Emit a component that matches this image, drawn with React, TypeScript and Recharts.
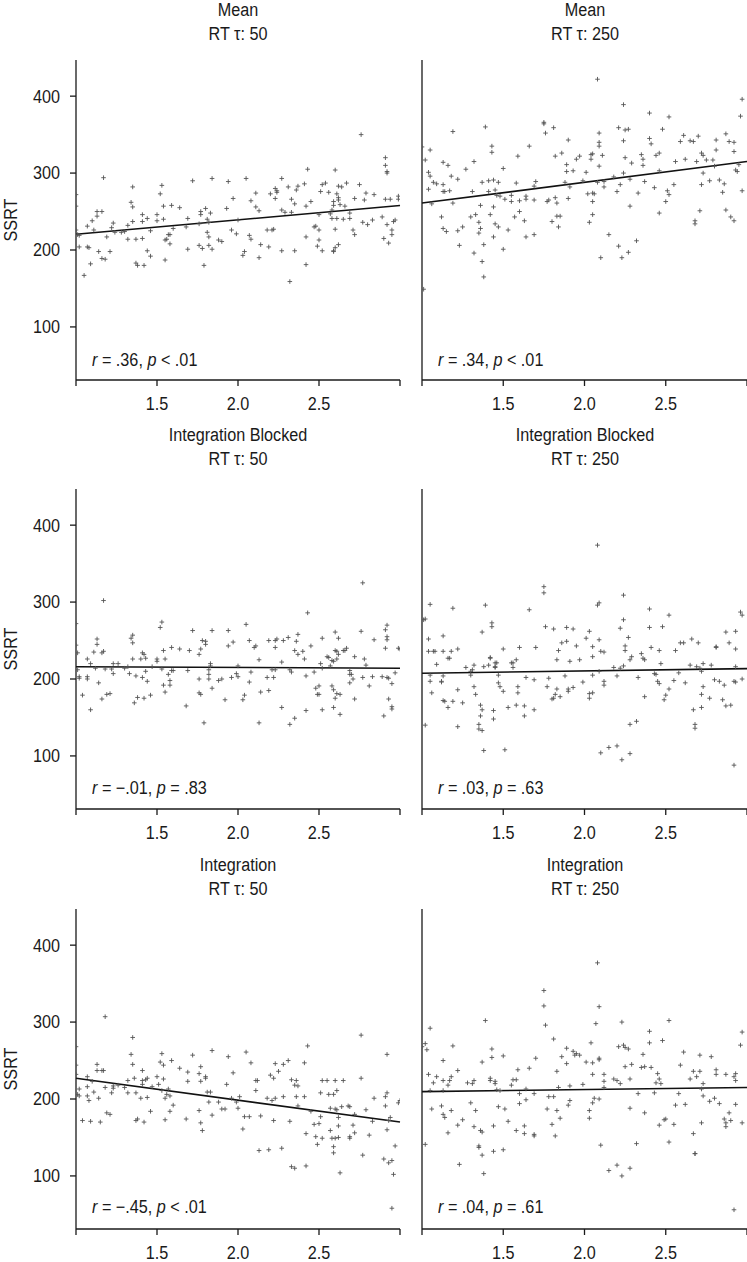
import React from 'react';
import { ScatterChart, Scatter, XAxis, YAxis, ReferenceLine } from 'recharts';

// RT variability (x) vs SSRT (y)
const meanTau50: [number, number][] = [
  [1.00,272],[1.00,257],[1.00,226],[1.01,220],[1.02,219],[1.02,204],[1.05,167],[1.07,204],[1.08,203],[1.07,231],
  [1.09,182],[1.10,238],[1.11,226],[1.13,250],[1.13,244],[1.14,198],[1.16,189],[1.16,250],[1.17,294],[1.18,188],
  [1.19,217],[1.21,198],[1.22,229],[1.23,235],[1.24,223],[1.28,223],[1.30,224],[1.32,232],[1.32,214],[1.34,262],
  [1.35,282],[1.35,256],[1.35,237],[1.37,183],[1.38,180],[1.37,214],[1.41,215],[1.41,246],[1.41,237],[1.42,180],
  [1.44,241],[1.44,199],[1.46,192],[1.46,225],[1.50,246],[1.50,238],[1.52,273],[1.53,284],[1.54,257],[1.54,240],
  [1.55,213],[1.55,187],[1.56,214],[1.57,220],[1.58,208],[1.58,220],[1.59,258],[1.60,228],[1.64,255],[1.68,230],
  [1.69,201],[1.69,241],[1.72,290],[1.76,234],[1.76,206],[1.77,246],[1.77,250],[1.78,202],[1.79,180],[1.80,254],
  [1.81,240],[1.81,223],[1.82,217],[1.82,236],[1.82,206],[1.83,248],[1.84,293],[1.84,201],[1.88,213],[1.90,211],
  [1.93,254],[1.94,289],[1.96,226],[1.97,267],[1.99,221],[2.00,239],[2.03,193],[2.04,198],[2.05,293],[2.07,219],
  [2.08,214],[2.08,264],[2.11,274],[2.11,256],[2.13,251],[2.13,190],[2.14,207],[2.18,226],[2.19,204],[2.20,273],
  [2.21,226],[2.22,227],[2.23,267],[2.23,280],[2.24,275],[2.24,277],[2.27,293],[2.27,252],[2.27,199],[2.29,249],
  [2.31,282],[2.32,159],[2.33,266],[2.33,249],[2.35,260],[2.35,199],[2.36,278],[2.37,283],[2.41,286],[2.42,217],
  [2.42,181],[2.42,257],[2.43,305],[2.45,263],[2.47,230],[2.48,231],[2.49,205],[2.50,213],[2.50,246],[2.50,226],
  [2.51,276],[2.52,285],[2.52,199],[2.54,287],[2.56,275],[2.57,247],[2.58,252],[2.58,241],[2.59,258],[2.59,198],
  [2.59,199],[2.59,263],[2.60,227],[2.60,304],[2.60,203],[2.61,273],[2.61,241],[2.62,283],[2.62,265],[2.62,207],
  [2.62,268],[2.63,259],[2.64,282],[2.65,240],[2.66,257],[2.67,287],[2.69,248],[2.69,241],[2.71,226],[2.72,220],
  [2.72,267],[2.75,285],[2.76,350],[2.77,236],[2.78,265],[2.79,274],[2.80,233],[2.83,239],[2.84,272],[2.89,243],
  [2.90,215],[2.91,320],[2.91,310],[2.92,302],[2.92,300],[2.91,266],[2.92,233],[2.93,209],[2.94,266],[2.95,226],
  [2.95,220],[2.96,237],[2.97,239],[2.99,266],[2.99,270],
];

const meanTau250: [number, number][] = [
  [1.00,334],[1.01,149],[1.02,317],[1.04,301],[1.04,279],[1.05,330],[1.05,296],[1.06,260],[1.07,288],[1.09,286],
  [1.12,243],[1.13,314],[1.13,276],[1.13,285],[1.13,228],[1.14,276],[1.15,224],[1.16,310],[1.17,277],[1.18,296],
  [1.19,261],[1.19,354],[1.22,292],[1.22,225],[1.23,206],[1.25,230],[1.27,305],[1.30,243],[1.31,276],[1.32,315],
  [1.32,196],[1.33,246],[1.35,236],[1.35,222],[1.36,228],[1.36,258],[1.37,185],[1.37,288],[1.38,165],[1.38,207],
  [1.39,360],[1.41,276],[1.41,290],[1.42,246],[1.43,327],[1.43,335],[1.44,291],[1.44,217],[1.44,256],[1.45,278],
  [1.45,234],[1.46,271],[1.47,288],[1.47,230],[1.48,270],[1.50,201],[1.50,306],[1.51,266],[1.53,226],[1.55,263],
  [1.55,271],[1.57,243],[1.58,287],[1.59,322],[1.60,264],[1.60,250],[1.63,238],[1.64,266],[1.64,270],[1.64,217],
  [1.66,335],[1.69,265],[1.69,283],[1.69,220],[1.70,289],[1.75,366],[1.75,364],[1.76,352],[1.77,263],[1.78,265],
  [1.80,237],[1.81,359],[1.82,268],[1.82,322],[1.83,244],[1.83,261],[1.84,230],[1.85,244],[1.86,326],[1.88,288],
  [1.89,302],[1.89,311],[1.90,343],[1.90,267],[1.91,282],[1.93,303],[1.95,318],[1.97,322],[1.99,290],[2.01,301],
  [2.02,273],[2.03,236],[2.04,324],[2.04,318],[2.05,263],[2.05,246],[2.05,325],[2.05,274],[2.06,273],[2.08,422],
  [2.09,309],[2.09,335],[2.09,340],[2.09,352],[2.08,288],[2.10,190],[2.11,323],[2.12,289],[2.12,282],[2.15,220],
  [2.18,295],[2.20,276],[2.21,205],[2.21,359],[2.22,285],[2.23,190],[2.24,389],[2.24,342],[2.24,300],[2.25,356],
  [2.25,320],[2.27,357],[2.27,197],[2.28,257],[2.28,292],[2.29,313],[2.32,212],[2.33,274],[2.35,324],[2.36,318],
  [2.36,310],[2.37,289],[2.40,345],[2.40,378],[2.41,338],[2.43,281],[2.44,323],[2.46,248],[2.46,326],[2.46,303],
  [2.48,357],[2.50,263],[2.51,277],[2.52,373],[2.52,272],[2.55,285],[2.56,315],[2.59,341],[2.61,349],[2.62,318],
  [2.65,342],[2.67,341],[2.68,238],[2.68,234],[2.69,315],[2.70,348],[2.71,251],[2.72,326],[2.72,285],[2.73,323],
  [2.73,300],[2.75,317],[2.77,290],[2.79,317],[2.80,309],[2.81,343],[2.81,330],[2.83,291],[2.85,275],[2.86,286],
  [2.87,351],[2.87,252],[2.89,341],[2.90,243],[2.92,238],[2.92,340],[2.92,328],[2.93,304],[2.94,302],[2.95,311],
  [2.96,374],[2.97,396],[2.97,277],
];

const blockedTau50: [number, number][] = [
  [1.00,272],[1.00,244],[1.01,234],[1.01,212],[1.02,203],[1.02,201],[1.04,179],[1.07,203],[1.07,200],[1.07,226],
  [1.09,220],[1.09,160],[1.11,235],[1.12,214],[1.13,252],[1.13,245],[1.14,195],[1.16,174],[1.16,234],[1.17,236],
  [1.17,302],[1.18,213],[1.19,180],[1.21,181],[1.22,213],[1.23,220],[1.23,207],[1.26,220],[1.30,214],[1.32,216],
  [1.33,207],[1.34,253],[1.35,247],[1.35,257],[1.35,226],[1.36,169],[1.37,204],[1.38,176],[1.41,202],[1.40,226],
  [1.41,234],[1.42,232],[1.42,175],[1.43,210],[1.43,227],[1.44,197],[1.46,179],[1.47,216],[1.50,226],[1.50,223],
  [1.52,267],[1.53,274],[1.53,213],[1.54,237],[1.54,192],[1.55,226],[1.55,183],[1.57,206],[1.58,192],[1.58,198],
  [1.59,241],[1.59,211],[1.60,211],[1.64,239],[1.68,165],[1.69,211],[1.70,237],[1.72,263],[1.76,200],[1.76,232],
  [1.76,182],[1.77,239],[1.77,180],[1.78,250],[1.79,143],[1.80,249],[1.80,245],[1.82,200],[1.82,206],[1.82,212],
  [1.83,220],[1.83,217],[1.84,188],[1.84,263],[1.88,198],[1.90,200],[1.92,173],[1.94,243],[1.94,263],[1.96,202],
  [1.97,248],[1.99,207],[2.00,203],[2.00,217],[2.03,173],[2.04,179],[2.05,271],[2.07,250],[2.07,196],[2.08,209],
  [2.10,241],[2.11,243],[2.13,225],[2.13,143],[2.14,183],[2.18,202],[2.19,250],[2.19,185],[2.21,212],[2.22,202],
  [2.23,241],[2.23,250],[2.23,212],[2.24,252],[2.27,163],[2.27,222],[2.28,250],[2.31,254],[2.32,212],[2.32,141],
  [2.33,209],[2.35,237],[2.35,149],[2.36,249],[2.37,258],[2.37,232],[2.40,236],[2.41,226],[2.42,204],[2.42,159],
  [2.43,286],[2.45,243],[2.47,209],[2.48,188],[2.49,180],[2.50,191],[2.50,180],[2.51,220],[2.52,214],[2.52,253],
  [2.52,160],[2.55,229],[2.56,228],[2.57,217],[2.58,224],[2.58,191],[2.59,223],[2.59,186],[2.59,163],[2.60,175],
  [2.60,237],[2.60,261],[2.61,236],[2.61,226],[2.61,181],[2.62,253],[2.62,232],[2.63,180],[2.63,154],[2.65,237],
  [2.66,237],[2.67,240],[2.69,211],[2.69,195],[2.69,206],[2.70,206],[2.71,200],[2.72,229],[2.72,174],[2.76,262],
  [2.77,325],[2.77,202],[2.78,226],[2.79,218],[2.81,191],[2.84,251],[2.83,203],[2.89,203],[2.90,152],[2.91,240],
  [2.91,264],[2.92,270],[2.92,251],[2.92,255],[2.92,202],[2.93,201],[2.93,174],[2.95,161],[2.95,164],[2.95,194],
  [2.97,208],[2.99,240],[3.00,239],
];

const blockedTau250: [number, number][] = [
  [1.01,277],[1.02,278],[1.02,140],[1.04,252],[1.04,236],[1.05,197],[1.05,297],[1.05,205],[1.06,182],[1.07,236],
  [1.08,236],[1.09,219],[1.12,197],[1.12,196],[1.13,204],[1.13,236],[1.13,256],[1.13,172],[1.14,171],[1.16,163],
  [1.16,227],[1.17,227],[1.18,236],[1.19,171],[1.19,292],[1.22,239],[1.22,186],[1.22,138],[1.25,169],[1.27,215],
  [1.30,210],[1.30,205],[1.31,212],[1.32,218],[1.32,190],[1.33,180],[1.35,141],[1.35,135],[1.36,166],[1.36,152],
  [1.37,133],[1.37,160],[1.37,261],[1.38,216],[1.38,107],[1.39,296],[1.41,218],[1.42,227],[1.42,228],[1.43,268],
  [1.43,273],[1.44,148],[1.44,159],[1.45,216],[1.45,215],[1.45,221],[1.46,221],[1.47,205],[1.47,195],[1.48,190],
  [1.50,239],[1.50,184],[1.51,108],[1.53,163],[1.55,221],[1.56,221],[1.56,215],[1.58,225],[1.58,166],[1.59,190],
  [1.59,182],[1.60,241],[1.63,165],[1.63,152],[1.64,202],[1.66,290],[1.69,199],[1.69,160],[1.70,241],[1.75,320],
  [1.75,312],[1.76,268],[1.77,190],[1.78,201],[1.80,174],[1.81,265],[1.81,175],[1.82,180],[1.83,225],[1.83,187],
  [1.84,237],[1.85,177],[1.86,247],[1.88,204],[1.89,249],[1.89,267],[1.90,187],[1.90,184],[1.91,223],[1.93,265],
  [1.93,189],[1.95,243],[1.97,225],[1.99,196],[2.01,253],[2.03,181],[2.03,175],[2.03,262],[2.05,229],[2.05,242],
  [2.05,205],[2.05,182],[2.08,296],[2.09,299],[2.09,210],[2.08,374],[2.09,251],[2.10,236],[2.10,104],[2.12,235],
  [2.12,197],[2.12,192],[2.15,111],[2.18,215],[2.20,204],[2.20,113],[2.22,266],[2.22,214],[2.23,95],[2.24,309],
  [2.24,277],[2.25,243],[2.25,237],[2.24,217],[2.27,254],[2.28,225],[2.28,141],[2.28,103],[2.29,229],[2.32,145],
  [2.33,202],[2.35,233],[2.36,227],[2.37,225],[2.37,177],[2.40,291],[2.40,267],[2.41,241],[2.43,207],[2.44,206],
  [2.45,197],[2.46,194],[2.46,237],[2.47,220],[2.48,268],[2.49,173],[2.50,179],[2.52,187],[2.52,283],[2.55,198],
  [2.56,237],[2.58,208],[2.59,247],[2.61,247],[2.62,195],[2.65,218],[2.66,252],[2.67,160],[2.68,141],[2.68,136],
  [2.69,216],[2.70,247],[2.71,214],[2.72,163],[2.72,180],[2.72,210],[2.73,220],[2.73,190],[2.77,175],[2.78,218],
  [2.80,199],[2.81,241],[2.81,242],[2.83,197],[2.85,173],[2.86,192],[2.87,165],[2.87,261],[2.89,247],[2.90,166],
  [2.92,88],[2.92,197],[2.93,262],[2.93,239],[2.93,196],[2.93,216],[2.96,287],[2.97,283],[2.97,200],
];

const integrationTau50: [number, number][] = [
  [1.00,268],[1.00,244],[1.00,232],[1.01,206],[1.02,204],[1.02,213],[1.04,172],[1.07,216],[1.07,204],[1.07,229],
  [1.08,198],[1.09,171],[1.10,223],[1.11,209],[1.13,245],[1.13,237],[1.14,201],[1.15,170],[1.16,237],[1.17,237],
  [1.18,307],[1.18,215],[1.19,182],[1.21,180],[1.22,208],[1.23,217],[1.23,214],[1.26,218],[1.30,215],[1.32,224],
  [1.32,208],[1.34,258],[1.35,245],[1.35,280],[1.36,227],[1.37,172],[1.38,174],[1.37,208],[1.41,237],[1.40,201],
  [1.41,224],[1.41,219],[1.42,170],[1.43,225],[1.44,202],[1.44,227],[1.46,184],[1.47,216],[1.50,229],[1.51,219],
  [1.52,248],[1.53,259],[1.53,211],[1.54,244],[1.54,226],[1.55,201],[1.55,173],[1.56,206],[1.57,213],[1.58,204],
  [1.58,184],[1.59,250],[1.60,192],[1.64,240],[1.68,174],[1.69,223],[1.69,235],[1.72,257],[1.76,233],[1.76,185],
  [1.77,223],[1.77,169],[1.77,242],[1.78,159],[1.80,229],[1.80,227],[1.81,209],[1.82,196],[1.83,209],[1.84,179],
  [1.84,263],[1.88,196],[1.90,187],[1.92,187],[1.93,219],[1.94,255],[1.96,201],[1.97,234],[1.99,196],[2.00,188],
  [2.01,203],[2.03,161],[2.04,177],[2.05,261],[2.07,177],[2.08,247],[2.11,224],[2.11,211],[2.12,224],[2.13,133],
  [2.14,178],[2.18,201],[2.19,134],[2.20,231],[2.21,198],[2.22,172],[2.22,227],[2.23,246],[2.23,201],[2.25,236],
  [2.27,136],[2.28,245],[2.28,203],[2.31,250],[2.32,171],[2.33,112],[2.33,225],[2.35,218],[2.35,110],[2.36,203],
  [2.36,224],[2.37,217],[2.37,191],[2.41,247],[2.41,203],[2.42,155],[2.43,269],[2.42,113],[2.45,184],[2.47,167],
  [2.48,151],[2.49,141],[2.50,168],[2.51,177],[2.51,208],[2.52,224],[2.52,149],[2.55,224],[2.56,206],[2.57,159],
  [2.57,188],[2.58,149],[2.59,130],[2.59,206],[2.59,138],[2.60,149],[2.60,187],[2.60,224],[2.61,186],[2.61,211],
  [2.62,165],[2.62,176],[2.62,150],[2.63,104],[2.64,190],[2.65,224],[2.68,191],[2.69,151],[2.69,149],[2.69,190],
  [2.71,166],[2.72,156],[2.72,180],[2.76,227],[2.76,283],[2.77,127],[2.79,186],[2.81,153],[2.84,201],[2.83,171],
  [2.90,122],[2.91,203],[2.91,191],[2.92,258],[2.92,208],[2.92,160],[2.93,117],[2.93,172],[2.94,176],[2.95,120],
  [2.95,58],[2.96,102],[2.97,139],[2.99,195],[3.00,198],
];

const integrationTau250: [number, number][] = [
  [1.00,268],[1.02,272],[1.02,141],[1.03,264],[1.04,232],[1.05,292],[1.05,211],[1.06,187],[1.07,221],[1.09,229],
  [1.12,191],[1.13,211],[1.13,224],[1.13,250],[1.13,180],[1.14,176],[1.16,156],[1.16,218],[1.17,224],[1.18,229],
  [1.18,185],[1.19,269],[1.22,237],[1.22,166],[1.23,115],[1.25,173],[1.28,221],[1.30,195],[1.31,220],[1.32,224],
  [1.32,164],[1.33,185],[1.35,139],[1.35,137],[1.36,159],[1.37,157],[1.37,127],[1.37,248],[1.38,103],[1.39,302],
  [1.42,227],[1.42,224],[1.43,265],[1.43,254],[1.44,165],[1.44,132],[1.45,220],[1.45,223],[1.46,212],[1.47,190],
  [1.48,211],[1.50,256],[1.50,134],[1.51,187],[1.53,171],[1.55,218],[1.56,225],[1.58,225],[1.58,159],[1.59,238],
  [1.60,207],[1.60,194],[1.63,165],[1.63,155],[1.64,213],[1.64,199],[1.66,240],[1.69,207],[1.69,154],[1.69,152],
  [1.70,253],[1.75,341],[1.75,321],[1.76,296],[1.77,187],[1.78,203],[1.80,167],[1.81,278],[1.81,203],[1.82,152],
  [1.83,236],[1.83,185],[1.84,215],[1.85,175],[1.86,255],[1.89,246],[1.89,266],[1.90,192],[1.91,198],[1.91,217],
  [1.93,262],[1.94,257],[1.95,259],[1.97,257],[1.99,219],[2.01,248],[2.03,175],[2.03,185],[2.04,273],[2.05,247],
  [2.05,232],[2.05,195],[2.06,201],[2.07,298],[2.09,320],[2.09,253],[2.09,251],[2.09,200],[2.08,377],[2.10,140],
  [2.12,232],[2.12,223],[2.12,215],[2.15,107],[2.18,226],[2.20,224],[2.20,114],[2.21,268],[2.22,220],[2.23,100],
  [2.23,300],[2.24,270],[2.25,242],[2.25,267],[2.27,265],[2.28,188],[2.28,110],[2.28,226],[2.29,245],[2.32,142],
  [2.33,207],[2.35,241],[2.36,258],[2.37,242],[2.37,182],[2.40,288],[2.40,273],[2.41,241],[2.43,208],[2.44,221],
  [2.45,233],[2.46,166],[2.46,226],[2.47,220],[2.48,276],[2.49,173],[2.50,174],[2.52,144],[2.52,302],[2.55,167],
  [2.56,192],[2.58,207],[2.59,244],[2.61,261],[2.62,193],[2.65,226],[2.67,236],[2.67,155],[2.68,129],[2.68,129],
  [2.69,229],[2.71,257],[2.71,236],[2.72,169],[2.72,213],[2.73,204],[2.73,220],[2.77,197],[2.78,255],[2.80,201],
  [2.81,238],[2.81,232],[2.83,194],[2.86,174],[2.87,232],[2.87,169],[2.87,164],[2.89,182],[2.90,172],[2.92,56],
  [2.92,229],[2.93,224],[2.93,193],[2.93,233],[2.96,270],[2.97,287],[2.97,169],
];

// fitted regression line: SSRT at x = 1.0 and x = 3.0
const meanTau50Fit = [220.5, 257.8];
const meanTau250Fit = [261, 315];
const blockedTau50Fit = [216, 214];
const blockedTau250Fit = [207.5, 213.5];
const integrationTau50Fit = [227, 170];
const integrationTau250Fit = [209.6, 215];

const xTicks = [1, 1.5, 2, 2.5, 3];
const yTicks = [100, 200, 300, 400];

// Liberation Sans squeezed a little to stand in for a condensed Helvetica
const FONT = "'Liberation Sans', Arial, sans-serif";
const SQUEEZE = 0.9;
const INK = '#1a1a1a';

const PlusMark = (props: any) => {
  const { cx, cy } = props;
  if (cx == null || cy == null) return <g />;
  const a = 2.3;
  return (
    <g stroke="#555" strokeWidth={0.9}>
      <line x1={cx - a} x2={cx + a} y1={cy} y2={cy} />
      <line x1={cx} x2={cx} y1={cy - a} y2={cy + a} />
    </g>
  );
};

const XTick = (props: any) => {
  const { x, y, payload } = props;
  const v = payload.value as number;
  if (v === 1 || v === 3) return <g />;
  return (
    <g transform={`translate(${x},${y})`}>
      <text transform={`scale(${SQUEEZE},1)`} textAnchor="middle" dy="0.71em" fontSize={18} fontFamily={FONT} fill={INK}>
        {v.toFixed(1)}
      </text>
    </g>
  );
};

const YTick = (props: any) => {
  const { x, y, payload } = props;
  return (
    <g transform={`translate(${x},${y})`}>
      <text transform={`scale(${SQUEEZE},1)`} textAnchor="end" dy="0.355em" fontSize={18} fontFamily={FONT} fill={INK}>
        {payload.value}
      </text>
    </g>
  );
};

interface PanelProps {
  points: [number, number][];
  fit: number[];
  plotTop: number;
  right?: boolean;
}

const Panel = ({ points, fit, plotTop, right }: PanelProps) => {
  const data = points.map(([x, y]) => ({ x, y }));
  const yAxisW = right ? 10 : 76;
  const left = right ? 412 : 0;
  const width = right ? 335 : 410;
  return (
    <div style={{ position: 'absolute', left, top: plotTop - 10 }}>
      <ScatterChart
        width={width}
        height={370}
        margin={{ top: 10, right: right ? 0 : 10, bottom: 0, left: 0 }}
      >
        <XAxis
          type="number"
          dataKey="x"
          domain={[1, 3]}
          ticks={xTicks}
          height={40}
          tickSize={6}
          tickMargin={11}
          stroke={INK}
          strokeWidth={1.3}
          tick={<XTick />}
          allowDataOverflow
        />
        <YAxis
          type="number"
          dataKey="y"
          domain={[31, 447]}
          ticks={yTicks}
          width={yAxisW}
          tickSize={right ? 0 : 6}
          tickMargin={10}
          tick={right ? false : <YTick />}
          tickLine={!right}
          stroke={INK}
          strokeWidth={1.3}
          allowDataOverflow
        />
        <Scatter data={data} shape={PlusMark} isAnimationActive={false} />
        <ReferenceLine
          segment={[{ x: 1, y: fit[0] }, { x: 3, y: fit[1] }]}
          stroke="#111"
          strokeWidth={1.6}
        />
      </ScatterChart>
    </div>
  );
};

const Title = ({ lines, top, center }: { lines: string[]; top: number; center: number }) => (
  <div
    style={{
      position: 'absolute', left: center - 150, top, width: 300, textAlign: 'center',
      fontFamily: FONT, fontSize: 18, lineHeight: '24px', color: INK,
      transform: `scaleX(${SQUEEZE})`, transformOrigin: 'center',
    }}
  >
    {lines.map((l) => <div key={l}>{l}</div>)}
  </div>
);

const Stat = ({ children, left, baseline }: { children: React.ReactNode; left: number; baseline: number }) => (
  <div
    style={{
      position: 'absolute', left, top: baseline - 15, fontFamily: FONT, fontSize: 18,
      lineHeight: '18px', color: INK, whiteSpace: 'nowrap',
      transform: `scaleX(${SQUEEZE})`, transformOrigin: 'left',
    }}
  >
    {children}
  </div>
);

const SsrtLabel = ({ centerY }: { centerY: number }) => (
  <div
    style={{
      position: 'absolute', left: 11 - 30, top: centerY - 11, width: 60, textAlign: 'center',
      fontFamily: FONT, fontSize: 18, lineHeight: '22px', color: INK,
      transform: `rotate(-90deg) scaleX(${SQUEEZE})`,
    }}
  >
    SSRT
  </div>
);

export default function App() {
  const rows = [60, 489, 909];
  return (
    <div style={{ position: 'absolute', left: 0, top: 0, width: 747, height: 1262, background: '#fff', overflow: 'hidden' }}>
      <Title lines={['Mean', 'RT τ: 50']} top={-2} center={238} />
      <Title lines={['Mean', 'RT τ: 250']} top={-2} center={584.5} />
      <Title lines={['Integration Blocked', 'RT τ: 50']} top={423} center={238} />
      <Title lines={['Integration Blocked', 'RT τ: 250']} top={423} center={584.5} />
      <Title lines={['Integration', 'RT τ: 50']} top={853} center={238} />
      <Title lines={['Integration', 'RT τ: 250']} top={853} center={584.5} />

      <SsrtLabel centerY={220} />
      <SsrtLabel centerY={648.5} />
      <SsrtLabel centerY={1068.5} />

      <Panel points={meanTau50} fit={meanTau50Fit} plotTop={rows[0]} />
      <Panel points={meanTau250} fit={meanTau250Fit} plotTop={rows[0]} right />
      <Panel points={blockedTau50} fit={blockedTau50Fit} plotTop={rows[1]} />
      <Panel points={blockedTau250} fit={blockedTau250Fit} plotTop={rows[1]} right />
      <Panel points={integrationTau50} fit={integrationTau50Fit} plotTop={rows[2]} />
      <Panel points={integrationTau250} fit={integrationTau250Fit} plotTop={rows[2]} right />

      <Stat left={92} baseline={365.7}><i>r</i> = .36, <i>p</i> &lt; .01</Stat>
      <Stat left={438} baseline={365.7}><i>r</i> = .34, <i>p</i> &lt; .01</Stat>
      <Stat left={92} baseline={794}><i>r</i> = −.01, <i>p</i> = .83</Stat>
      <Stat left={438} baseline={794}><i>r</i> = .03, <i>p</i> = .63</Stat>
      <Stat left={92} baseline={1213.3}><i>r</i> = −.45, <i>p</i> &lt; .01</Stat>
      <Stat left={438} baseline={1213.3}><i>r</i> = .04, <i>p</i> = .61</Stat>
    </div>
  );
}
